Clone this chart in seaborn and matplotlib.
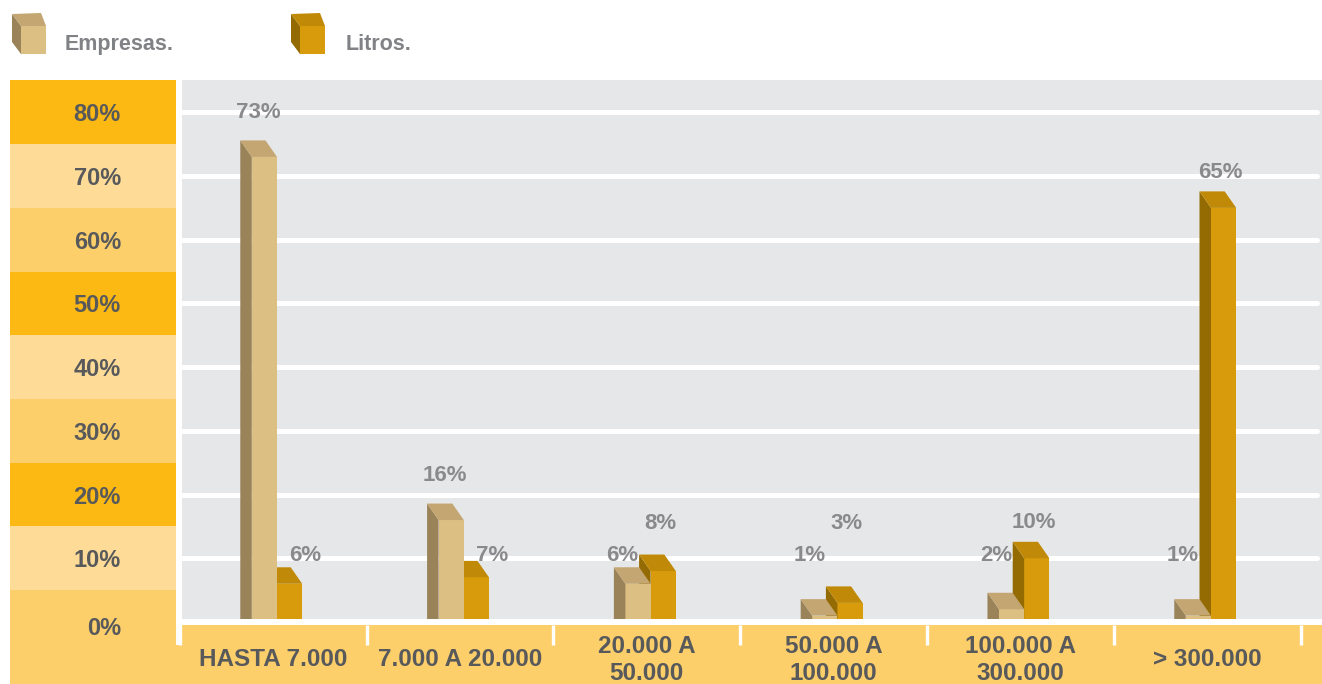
import matplotlib
matplotlib.use("Agg")
import matplotlib.pyplot as plt
from matplotlib.patches import Polygon, Rectangle
from matplotlib.transforms import blended_transform_factory
import pandas as pd
import seaborn as sns

# ---- data -------------------------------------------------------------
categories = ["HASTA 7.000", "7.000 A 20.000", "20.000 A\n50.000",
              "50.000 A\n100.000", "100.000 A\n300.000", "> 300.000"]
series = ["Empresas.", "Litros."]
empresas = [73, 16, 6, 1, 2, 1]
litros = [6, 7, 8, 3, 10, 65]
scale_ticks = [80, 70, 60, 50, 40, 30, 20, 10, 0]

# ---- colours ----------------------------------------------------------
FRONT = {"Empresas.": "#DCBF83", "Litros.": "#D89B0C"}
SIDE = {"Empresas.": "#9A8358", "Litros.": "#946A02"}
TOP = {"Empresas.": "#C3A671", "Litros.": "#C08A08"}
BANDS = ["#FDB913", "#FEDC98", "#FDCF6B"]      # strong, pale, mid (repeating)
PLOT_BG = "#E6E7E8"
AXIS_TXT = "#58595B"
VALUE_TXT = "#8A8A8C"
LEGEND_TXT = "#808285"

sns.set_style("white")
plt.rcParams["font.family"] = ["Liberation Sans", "DejaVu Sans"]

# ---- layout (pixel grid of the 1322 x 684 canvas) ----------------------
W, H = 1322, 684
Y_ZERO = 622          # pixel row of the 0 % line
PX_PER_PCT = 6.371    # pixels per percentage point
X_FIRST = 277.0       # pixel column of the first category
X_STEP = 186.8        # pixels between categories
LABEL_SHIFT = -0.02   # category labels / separators sit a touch left of bars


def box(x0, y0, x1, y1):
    """Pixel box (top-left origin) -> figure-fraction rectangle."""
    return [x0 / W, 1 - y1 / H, (x1 - x0) / W, (y1 - y0) / H]


def pct_at(ypx):
    return (Y_ZERO - ypx) / PX_PER_PCT


def cat_at(xpx):
    return (xpx - X_FIRST) / X_STEP


fig = plt.figure(figsize=(W / 100, H / 100), dpi=100)
fig.patch.set_facecolor("white")

# background layer: bottom category strip + legend
bg = fig.add_axes([0, 0, 1, 1], zorder=0)
bg.set_xlim(0, W)
bg.set_ylim(H, 0)
bg.axis("off")
bg.add_patch(Rectangle((10, 645), W - 10, H - 645, color=BANDS[2], lw=0))
bg.add_patch(Rectangle((182, 625), W - 182, H - 625, color=BANDS[2], lw=0))


def legend_cube(x, name):
    side = [(x, 14), (x, 42), (x + 9, 54), (x + 9, 26)]
    top = [(x, 14), (x + 29, 13), (x + 34, 26), (x + 9, 26)]
    bg.add_patch(Polygon(side, closed=True, fc=SIDE[name], lw=0))
    bg.add_patch(Polygon(top, closed=True, fc=TOP[name], lw=0))
    bg.add_patch(Rectangle((x + 9, 26), 25, 28, fc=FRONT[name], lw=0))


legend_cube(12, series[0])
legend_cube(291, series[1])
bg.text(65, 50, series[0], ha="left", va="baseline", fontsize=15.5,
        fontweight="bold", color=LEGEND_TXT)
bg.text(346, 50, series[1], ha="left", va="baseline", fontsize=15.5,
        fontweight="bold", color=LEGEND_TXT)

# left scale panel: coloured bands with percentage labels
lax = fig.add_axes(box(10, 80, 176, H), zorder=1)
lax.set_xlim(0, 166)
lax.set_ylim(pct_at(H), pct_at(80))
lax.axis("off")
for k, v in enumerate(scale_ticks):
    lo = v - 5 if v > 0 else pct_at(H)
    lax.axhspan(lo, v + 5, color=BANDS[k % 3], lw=0)
    lax.text(111, v - 0.4 if v else -1.0, f"{v}%", ha="right", va="center",
             fontsize=17, fontweight="bold", color=AXIS_TXT)

# main plot
ax = fig.add_axes(box(182, 80, W, 619), zorder=2)
ax.set_facecolor(PLOT_BG)

df = pd.DataFrame({
    "rango": categories * 2,
    "serie": [series[0]] * len(categories) + [series[1]] * len(categories),
    "pct": empresas + litros,
})
sns.barplot(data=df, x="rango", y="pct", hue="serie", order=categories,
            hue_order=series, palette=FRONT, width=0.27, dodge=True,
            saturation=1, linewidth=0, legend=False, ax=ax)

ax.set_xlim(cat_at(182), cat_at(W))
ax.set_ylim(pct_at(619), pct_at(80))
for s in ax.spines.values():
    s.set_visible(False)
ax.set_xticks([])
ax.set_yticks([])
ax.set_xlabel("")
ax.set_ylabel("")

# white grid lines with rounded ends
grid_end = cat_at(1317)
for v in range(10, 90, 10):
    ax.plot([cat_at(170), grid_end], [v, v], color="white", lw=3.6,
            solid_capstyle="round", zorder=1)

# extruded faces: side to the left, top receding up-left
DX = -11.5 / X_STEP
DY = 16.5 / PX_PER_PCT
for container, name, z in zip(ax.containers, series, (3.2, 3.0)):
    for bar in container:
        x0, w, h = bar.get_x(), bar.get_width(), bar.get_height()
        bar.set_zorder(z)
        side = [(x0 + DX, 0), (x0 + DX, h + DY), (x0, h), (x0, 0)]
        top = [(x0, h), (x0 + DX, h + DY), (x0 + w + DX, h + DY), (x0 + w, h)]
        ax.add_patch(Polygon(side, closed=True, fc=SIDE[name], lw=0, zorder=z))
        ax.add_patch(Polygon(top, closed=True, fc=TOP[name], lw=0, zorder=z))

# value labels: above tall bars, on a common low row for short ones
LOW_ROW, MID_ROW = 10.5, 15.5
val_kw = dict(ha="center", va="center", fontsize=16, fontweight="bold",
              color=VALUE_TXT, zorder=5)
for i, (e, l) in enumerate(zip(empresas, litros)):
    if e >= 10:
        ax.text(i - 0.10, e + 7, f"{e}%", **val_kw)
    else:
        ax.text(i - 0.15, LOW_ROW, f"{e}%", **val_kw)
    if l >= e:
        ax.text(i + 0.05, max(l + 5.6, MID_ROW), f"{l}%", **val_kw)
    else:
        ax.text(i + 0.15, LOW_ROW, f"{l}%", **val_kw)

# category strip: separators and labels
strip = blended_transform_factory(ax.transData, fig.transFigure)
for k in range(len(categories) + 1):
    xs = k - 0.5 + LABEL_SHIFT
    ax.plot([xs, xs], [1 - 625 / H, 1 - 645 / H], transform=strip,
            color="white", lw=2.4, solid_capstyle="butt", clip_on=False)
for i, c in enumerate(categories):
    ax.text(i + LABEL_SHIFT, 1 - 660 / H, c, transform=strip, ha="center",
            va="center", fontsize=17.5, fontweight="bold", color=AXIS_TXT,
            linespacing=1.2, clip_on=False)

fig.savefig("out.png", dpi=100, facecolor="white")
